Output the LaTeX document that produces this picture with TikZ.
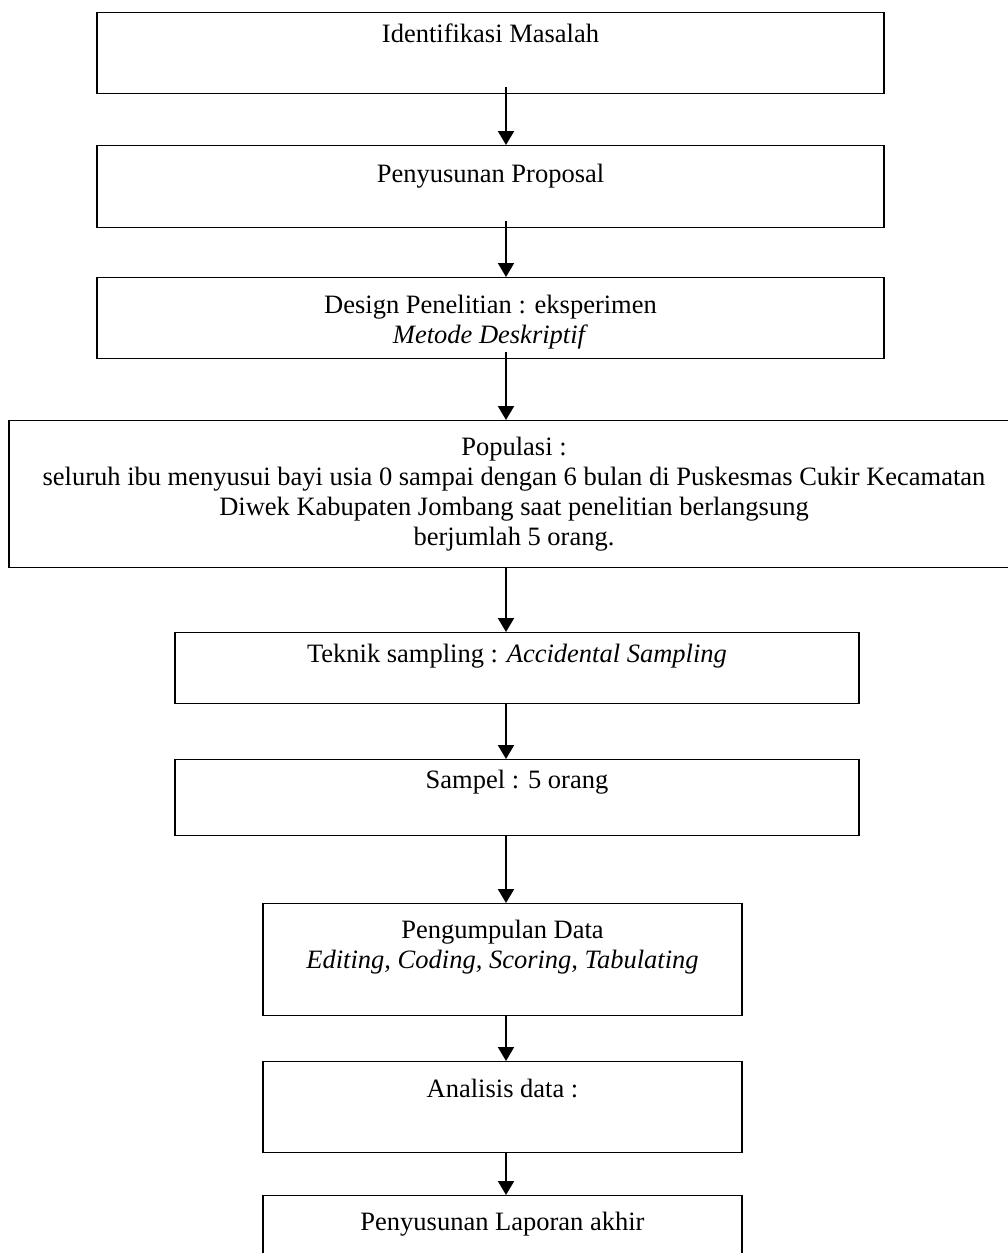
\documentclass[tikz,border=0pt]{standalone}
\usepackage{fontspec}
\setmainfont{Liberation Serif}
\usetikzlibrary{arrows.meta}
\tikzstyle{stage} = [draw, rectangle, line width=1.3pt, inner sep=0pt, anchor=north]
\tikzstyle{flow} = [line width=2pt, -{Triangle[length=14pt, width=16pt]}]
\newcommand{\lines}[1]{\begin{tabular}[t]{@{}c@{}}#1\end{tabular}}

\begin{document}
\begin{tikzpicture}[x=1pt, y=-1pt, font=\fontsize{26.5}{30}\selectfont]
        \useasboundingbox (0, 0) rectangle (1008, 1253);
        \clip (0, 0) rectangle (1008, 1253);
        \coordinate (spine) at (506, 0);

        \node[stage, minimum width=787pt, text height=30pt, text depth=51pt, name=masalah] at (490.5, 12) {Identifikasi Masalah};
        \node[stage, minimum width=787pt, text height=37pt, text depth=45pt, name=proposal] at (490.5, 145) {Penyusunan Proposal};
        \node[stage, minimum width=787pt, text height=36pt, text depth=45pt, name=design] at (490.5, 277)
            {\lines{Design Penelitian : eksperimen\\ \textit{Metode Deskriptif}}};
        \node[stage, minimum width=1010pt, text height=35pt, text depth=112pt, name=populasi] at (514, 420)
            {\lines{Populasi :\\ seluruh ibu menyusui bayi usia 0 sampai dengan 6 bulan di Puskesmas Cukir Kecamatan\\
             Diwek Kabupaten Jombang saat penelitian berlangsung\\ berjumlah 5 orang.}};
        \node[stage, minimum width=684pt, text height=30pt, text depth=41pt, name=teknik] at (517, 632)
            {Teknik sampling : \textit{Accidental Sampling}};
        \node[stage, minimum width=684pt, text height=29pt, text depth=47pt, name=sampel] at (517, 759) {Sampel : 5 orang};
        \node[stage, minimum width=479pt, text height=35pt, text depth=77pt, name=pengumpulan] at (502.5, 903)
            {\lines{Pengumpulan Data\\ \textit{Editing, Coding, Scoring, Tabulating}}};
        \node[stage, minimum width=479pt, text height=36pt, text depth=55pt, name=analisis] at (502.5, 1061) {Analisis data :};
        \node[stage, minimum width=479pt, text height=35pt, text depth=80pt, name=laporan] at (502.5, 1195) {Penyusunan Laporan akhir};

        \draw[flow, shorten <=-7pt] (masalah.south -| spine) -- (proposal.north -| spine);
        \draw[flow, shorten <=-7pt] (proposal.south -| spine) -- (design.north -| spine);
        \draw[flow, shorten <=-7pt] (design.south -| spine) -- (populasi.north -| spine);
        \draw[flow] (populasi.south -| spine) -- (teknik.north -| spine);
        \draw[flow] (teknik.south -| spine) -- (sampel.north -| spine);
        \draw[flow] (sampel.south -| spine) -- (pengumpulan.north -| spine);
        \draw[flow] (pengumpulan.south -| spine) -- (analisis.north -| spine);
        \draw[flow] (analisis.south -| spine) -- (laporan.north -| spine);
    \end{tikzpicture}
\end{document}
